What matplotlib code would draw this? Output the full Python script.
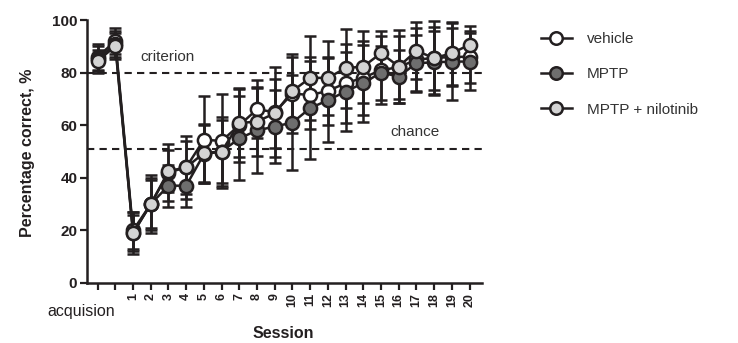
import matplotlib
matplotlib.use("Agg")
import matplotlib.pyplot as plt
from matplotlib.lines import Line2D
import numpy as np

plt.rcParams['font.family'] = ['Liberation Sans', 'DejaVu Sans']

# x positions: two acquisition days, then sessions 1-20
tick_labels = ['', ''] + [str(i) for i in range(1, 21)]

vehicle = [86, 92, 20, 30, 42, 44, 54.5, 54, 60, 66, 65, 72, 71.5, 73, 76, 78, 81, 82, 85, 85.5, 86, 86]
vehicle_err = [5, 5, 7, 11, 11, 12, 16.5, 18, 14, 11, 17, 15, 13, 13, 15, 14, 13, 12, 12, 12, 11, 10]

mptp = [85, 91, 19, 30, 37, 37, 49, 50, 55, 58, 59.5, 61, 66.5, 69.5, 72.8, 76, 80, 78.5, 83.6, 83.9, 84.2, 84.2]
mptp_err = [5, 5, 8, 10, 8, 8, 11, 13, 16, 16, 14, 18, 19.5, 16, 15, 14.6, 10.3, 10, 10.8, 11.9, 14.5, 10.7]

nilotinib = [84.5, 90, 19, 30, 42.5, 44, 49.4, 50, 60.8, 61.4, 64.5, 73, 78, 78, 81.7, 82.3, 87.4, 82.3, 88.3, 85.5, 87.4, 90.6]
nilotinib_err = [4, 5, 7, 9, 8, 10, 11, 12, 13, 13, 13, 13, 16, 14, 15, 13.7, 8.3, 14, 10.9, 14, 12, 7]

criterion = 80
chance = 51

series = [
    ('vehicle', vehicle, vehicle_err, '#ffffff'),
    ('MPTP', mptp, mptp_err, '#6e6e6e'),
    ('MPTP + nilotinib', nilotinib, nilotinib_err, '#d4d4d4'),
]

ink = '#231f20'
x = np.arange(len(tick_labels))

fig = plt.figure(figsize=(7.38, 3.43), dpi=100)
ax = fig.add_axes([87 / 738, 60 / 343, (482 - 87) / 738, 263 / 343])

ax.axhline(criterion, color=ink, lw=1.5, ls=(0, (3.5, 2.5)), zorder=1)
ax.axhline(chance, color=ink, lw=1.5, ls=(0, (3.5, 2.5)), zorder=1)

for i, (name, vals, err, fc) in enumerate(series):
    ax.errorbar(x, vals, yerr=err, fmt='none', ecolor=ink, elinewidth=1.8,
                capsize=4.5, capthick=1.8, zorder=2 + i * 0.1, clip_on=False)
for i, (name, vals, err, fc) in enumerate(series):
    ax.plot(x, vals, '-o', color=ink, lw=1.8, ms=9.5, mfc=fc, mec=ink,
            mew=1.8, zorder=3 + i, clip_on=False)

ax.set_xlim(-0.6, 21.7)
ax.set_ylim(0, 100)
ax.spines['top'].set_visible(False)
ax.spines['right'].set_visible(False)
for s in ('left', 'bottom'):
    ax.spines[s].set_linewidth(1.8)
    ax.spines[s].set_color(ink)

ax.set_yticks([0, 20, 40, 60, 80, 100])
ax.set_xticks(x)
ax.set_xticklabels(tick_labels, rotation=90, fontsize=9, fontweight='bold', va='top')
for lab in ax.get_yticklabels():
    lab.set_fontweight('bold')
    lab.set_fontsize(11)
ax.tick_params(direction='out', length=5, width=1.6, color=ink, labelcolor=ink)
ax.tick_params(axis='x', pad=2)
ax.tick_params(axis='y', pad=2)

ax.text(2.4, 86, 'criterion', fontsize=11, color='#333333', ha='left', va='center')
ax.text(16.5, 57.5, 'chance', fontsize=11, color='#333333', ha='left', va='center')
ax.text(1.0, -0.109, 'acquision', fontsize=11.5, color=ink, ha='right', va='center',
        transform=ax.get_xaxis_transform())

fig.text(283 / 738, 1 - 333 / 343, 'Session', fontsize=11.5, fontweight='bold',
         color=ink, ha='center', va='center')
fig.text(28 / 738, 1 - 153 / 343, 'Percentage correct, %', fontsize=11.5,
         fontweight='bold', color=ink, ha='center', va='center', rotation=90)

handles = [Line2D([0], [0], color=ink, lw=1.8, marker='o', ms=9, mfc=fc, mec=ink, mew=1.8)
           for name, vals, err, fc in series]
fig.legend(handles, [s[0] for s in series], loc='upper left',
           bbox_to_anchor=(541 / 738, 1 - 32 / 343), frameon=False, fontsize=11,
           handlelength=2.0, handletextpad=1.0, labelspacing=1.4, borderpad=0,
           borderaxespad=0, labelcolor='#333333')

fig.savefig('out.png', dpi=100)
